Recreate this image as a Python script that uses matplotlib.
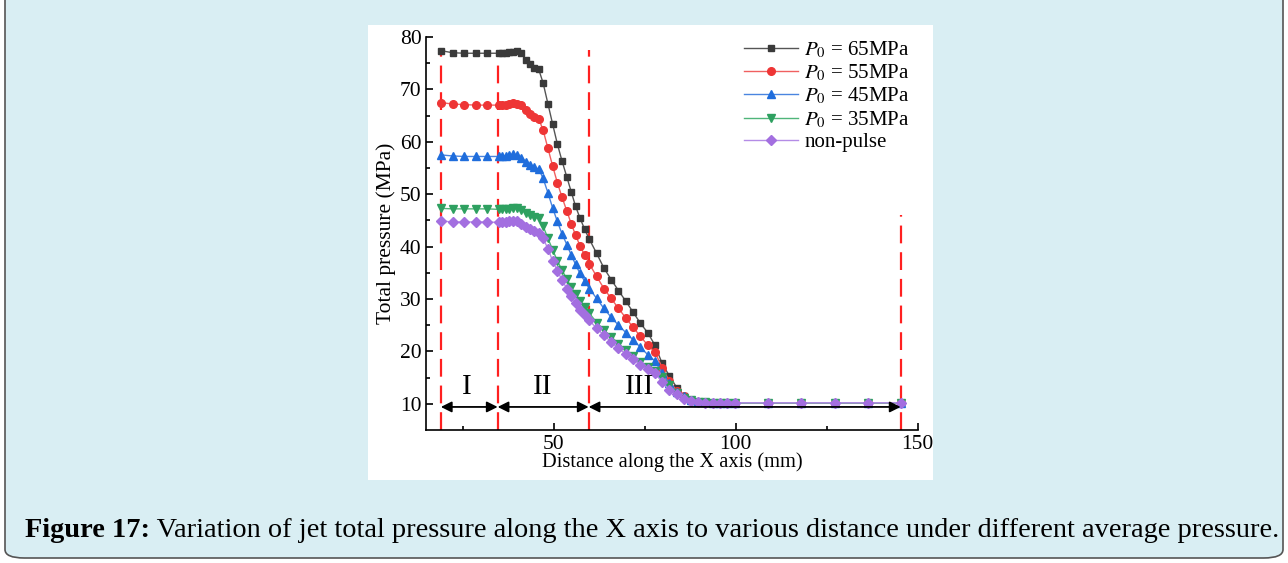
import matplotlib
matplotlib.use("Agg")
import matplotlib.pyplot as plt
from matplotlib.patches import FancyBboxPatch, Rectangle

# ---------------- datos ----------------
dist = [19.0, 22.2, 25.4, 28.6, 31.8, 35.0, 35.9, 36.8, 37.8, 38.9,
        40.0, 41.1, 42.3, 43.5, 44.7, 45.9, 47.1, 48.4, 49.7, 51.0,
        52.3, 53.6, 54.8, 56.0, 57.2, 58.5, 59.8, 61.8, 63.8, 65.8,
        67.8, 69.8, 71.8, 73.8, 75.8, 77.8, 79.8, 81.8, 83.8, 85.7,
        87.7, 89.7, 91.7, 93.7, 95.7, 97.7, 99.7, 108.8, 118.0, 127.2,
        136.4, 145.5]

p65 = [77.4, 77.0, 76.9, 76.9, 76.9, 76.9, 76.9, 77.0, 77.1, 77.2,
       77.3, 76.9, 75.7, 74.8, 74.1, 73.8, 71.2, 67.3, 63.4, 59.6,
       56.3, 53.3, 50.5, 47.7, 45.5, 43.3, 41.4, 38.7, 35.9, 33.7,
       31.6, 29.6, 27.5, 25.4, 23.6, 21.2, 17.7, 15.3, 13.1, 11.4,
       10.6, 10.4, 10.3, 10.2, 10.2, 10.2, 10.2, 10.2, 10.2, 10.2,
       10.2, 10.2]

p55 = [67.5, 67.2, 67.1, 67.0, 67.0, 67.0, 67.0, 67.1, 67.2, 67.35,
       67.3, 67.0, 66.1, 65.3, 64.7, 64.4, 62.2, 58.8, 55.4, 52.2,
       49.4, 46.8, 44.4, 42.2, 40.2, 38.4, 36.7, 34.3, 32.0, 30.1,
       28.2, 26.4, 24.6, 22.9, 21.2, 19.9, 16.9, 14.3, 12.5, 11.4,
       10.7, 10.4, 10.3, 10.2, 10.2, 10.2, 10.2, 10.2, 10.2, 10.2,
       10.2, 10.2]

p45 = [57.5, 57.3, 57.2, 57.2, 57.2, 57.2, 57.2, 57.3, 57.5, 57.6,
       57.5, 57.0, 56.2, 55.6, 55.1, 54.8, 53.0, 50.3, 47.4, 44.8,
       42.4, 40.4, 38.4, 36.6, 34.9, 33.4, 32.0, 30.1, 28.2, 26.5,
       25.0, 23.6, 22.2, 20.8, 19.4, 18.2, 15.8, 13.9, 12.3, 11.4,
       10.7, 10.4, 10.3, 10.2, 10.2, 10.2, 10.2, 10.2, 10.2, 10.2,
       10.2, 10.2]

p35 = [47.3, 47.2, 47.2, 47.2, 47.2, 47.1, 47.1, 47.2, 47.2, 47.3,
       47.3, 47.0, 46.5, 46.0, 45.6, 45.4, 43.9, 41.6, 39.4, 37.3,
       35.5, 33.8, 32.2, 30.9, 29.7, 28.5, 27.3, 25.5, 24.1, 22.8,
       21.5, 20.3, 19.1, 18.0, 17.1, 16.3, 15.1, 13.6, 12.1, 11.2,
       10.7, 10.4, 10.3, 10.2, 10.2, 10.2, 10.2, 10.2, 10.2, 10.2,
       10.2, 10.2]

nopulso = [44.9, 44.7, 44.7, 44.7, 44.7, 44.6, 44.6, 44.7, 44.8, 44.9,
           44.9, 44.4, 43.8, 43.4, 43.0, 42.6, 41.6, 39.6, 37.3, 35.4,
           33.6, 32.0, 30.6, 29.3, 27.9, 26.9, 25.9, 24.4, 23.1, 21.8,
           20.6, 19.5, 18.5, 17.5, 16.6, 15.8, 14.2, 12.6, 11.9, 11.0,
           10.5, 10.3, 10.2, 10.2, 10.2, 10.2, 10.2, 10.2, 10.2, 10.2,
           10.2, 10.2]

etiquetas = [r"$P_0$ = 65MPa", r"$P_0$ = 55MPa", r"$P_0$ = 45MPa",
             r"$P_0$ = 35MPa", "non-pulse"]

limites = [19.0, 34.6, 59.6, 145.3]   # lineas rojas de zona
zonas = ["I", "II", "III"]
pos_zonas = [26.2, 47.0, 73.7]

# ---------------- figura ----------------
plt.rcParams["font.family"] = ["Liberation Serif", "DejaVu Serif"]
plt.rcParams["mathtext.fontset"] = "stix"

fig = plt.figure(figsize=(12.88, 5.63), dpi=100)
fig.patch.set_facecolor("white")

W, H = 1288.0, 563.0
marco = FancyBboxPatch((5 / W, 5 / H), 1278 / W, 600 / H,
                       boxstyle="round,pad=0,rounding_size=0.015",
                       transform=fig.transFigure, facecolor="#d9eef3",
                       edgecolor="#555555", linewidth=1.2, zorder=0)
fig.patches.append(marco)
panel = Rectangle((368 / W, 1 - 480 / H), 565 / W, 455 / H,
                  transform=fig.transFigure, facecolor="white",
                  edgecolor="none", zorder=1)
fig.patches.append(panel)

ax = fig.add_axes([426.3 / W, 1 - 430 / H, 491.4 / W, 393 / H])
ax.set_zorder(2)

series = [p65, p55, p45, p35, nopulso]
col_linea = ["#555555", "#f06060", "#4a85e0", "#4fb57a", "#b48ce6"]
col_marca = ["#3a3a3a", "#ee3535", "#1f6ddc", "#2ea060", "#a36fe0"]
marcas = ["s", "o", "^", "v", "D"]
tam = [5, 5.5, 6, 6, 5]

for s, lab, cl, cm, m, t in zip(series, etiquetas, col_linea, col_marca, marcas, tam):
    ax.plot(dist, s, color=cl, lw=1.0, marker=m, markersize=t,
            markerfacecolor=cm, markeredgecolor=cm, label=lab)

# lineas rojas discontinuas
for i, xl in enumerate(limites):
    top = 77.5 if i < 3 else 46.0
    ax.plot([xl, xl], [5, top], color="#ff2020", lw=1.6,
            dashes=(8, 4), zorder=1)

# flechas
for a, b in zip(limites[:-1], limites[1:]):
    ax.annotate("", xy=(b, 9.4), xytext=(a, 9.4),
                arrowprops=dict(arrowstyle="<|-|>", color="black", lw=1.3,
                                shrinkA=0, shrinkB=0, mutation_scale=16))
for z, xz in zip(zonas, pos_zonas):
    ax.text(xz, 13.3, z, fontsize=21, ha="center", va="center")

ax.set_xlim(15, 150)
ax.set_ylim(5, 80)
ax.set_xticks([50, 100, 150])
ax.set_xticks([25, 75, 125], minor=True)
ax.set_yticks(range(10, 81, 10))
ax.set_yticks(range(15, 80, 10), minor=True)
ax.tick_params(which="both", direction="in", labelsize=15.5, width=1.2)
ax.tick_params(which="major", length=5)
ax.tick_params(which="minor", length=3)
for lado in ["top", "right"]:
    ax.spines[lado].set_visible(False)
for lado in ["left", "bottom"]:
    ax.spines[lado].set_linewidth(1.2)

ax.set_xlabel("Distance along the X axis (mm)", fontsize=14.8, labelpad=-1)
ax.set_ylabel("Total pressure (MPa)", fontsize=15.5, labelpad=3)

ax.legend(loc="upper right", frameon=False, fontsize=15, handlelength=2.6,
          labelspacing=0.12, borderaxespad=0.1, handletextpad=0.3,
          bbox_to_anchor=(1.005, 1.02))

# pie de figura
t1 = fig.text(25 / W, 1 - 537 / H, "Figure 17:", fontsize=20.4,
              fontweight="bold", va="baseline", ha="left", zorder=3)
ax.annotate(" Variation of jet total pressure along the X axis to various "
            "distance under different average pressure.",
            xy=(1, 0), xycoords=t1, va="bottom", ha="left", fontsize=20.4,
            annotation_clip=False)

plt.savefig("out.png", dpi=100, facecolor=fig.get_facecolor())
